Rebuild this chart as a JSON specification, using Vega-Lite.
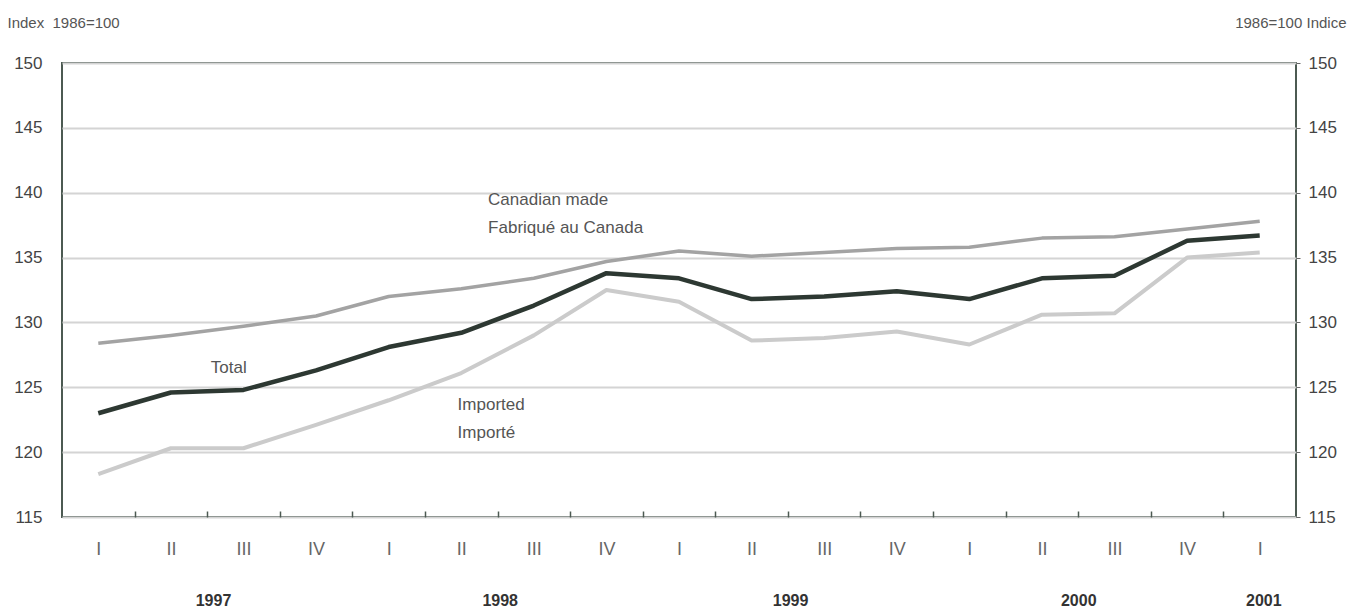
{
  "$schema": "https://vega.github.io/schema/vega-lite/v6.json",
  "width": 1234,
  "height": 454,
  "autosize": {"type": "none"},
  "padding": {"left": 62, "top": 63, "right": 57, "bottom": 92},
  "background": "white",
  "config": {
    "view": {"stroke": "#4c5a52", "strokeWidth": 2},
    "font": "Liberation Sans",
    "axis": {"labelColor": "#444", "labelFont": "Liberation Sans"}
  },
  "datasets": {
    "series": [
      {"t": 0, "series": "Total", "value": 123.0},
      {"t": 1, "series": "Total", "value": 124.6},
      {"t": 2, "series": "Total", "value": 124.8},
      {"t": 3, "series": "Total", "value": 126.3},
      {"t": 4, "series": "Total", "value": 128.1},
      {"t": 5, "series": "Total", "value": 129.2},
      {"t": 6, "series": "Total", "value": 131.3},
      {"t": 7, "series": "Total", "value": 133.8},
      {"t": 8, "series": "Total", "value": 133.4},
      {"t": 9, "series": "Total", "value": 131.8},
      {"t": 10, "series": "Total", "value": 132.0},
      {"t": 11, "series": "Total", "value": 132.4},
      {"t": 12, "series": "Total", "value": 131.8},
      {"t": 13, "series": "Total", "value": 133.4},
      {"t": 14, "series": "Total", "value": 133.6},
      {"t": 15, "series": "Total", "value": 136.3},
      {"t": 16, "series": "Total", "value": 136.7},
      {"t": 0, "series": "Imported", "value": 118.3},
      {"t": 1, "series": "Imported", "value": 120.3},
      {"t": 2, "series": "Imported", "value": 120.3},
      {"t": 3, "series": "Imported", "value": 122.1},
      {"t": 4, "series": "Imported", "value": 124.0},
      {"t": 5, "series": "Imported", "value": 126.1},
      {"t": 6, "series": "Imported", "value": 129.0},
      {"t": 7, "series": "Imported", "value": 132.5},
      {"t": 8, "series": "Imported", "value": 131.6},
      {"t": 9, "series": "Imported", "value": 128.6},
      {"t": 10, "series": "Imported", "value": 128.8},
      {"t": 11, "series": "Imported", "value": 129.3},
      {"t": 12, "series": "Imported", "value": 128.3},
      {"t": 13, "series": "Imported", "value": 130.6},
      {"t": 14, "series": "Imported", "value": 130.7},
      {"t": 15, "series": "Imported", "value": 135.0},
      {"t": 16, "series": "Imported", "value": 135.4},
      {"t": 0, "series": "Canadian made", "value": 128.4},
      {"t": 1, "series": "Canadian made", "value": 129.0},
      {"t": 2, "series": "Canadian made", "value": 129.7},
      {"t": 3, "series": "Canadian made", "value": 130.5},
      {"t": 4, "series": "Canadian made", "value": 132.0},
      {"t": 5, "series": "Canadian made", "value": 132.6},
      {"t": 6, "series": "Canadian made", "value": 133.4},
      {"t": 7, "series": "Canadian made", "value": 134.7},
      {"t": 8, "series": "Canadian made", "value": 135.5},
      {"t": 9, "series": "Canadian made", "value": 135.1},
      {"t": 10, "series": "Canadian made", "value": 135.4},
      {"t": 11, "series": "Canadian made", "value": 135.7},
      {"t": 12, "series": "Canadian made", "value": 135.8},
      {"t": 13, "series": "Canadian made", "value": 136.5},
      {"t": 14, "series": "Canadian made", "value": 136.6},
      {"t": 15, "series": "Canadian made", "value": 137.2},
      {"t": 16, "series": "Canadian made", "value": 137.8}
    ],
    "labels": [
      {"t": 5.37, "value": 139.45, "text": "Canadian made"},
      {"t": 5.37, "value": 137.3, "text": "Fabriqué au Canada"},
      {"t": 1.55, "value": 126.5, "text": "Total"},
      {"t": 4.95, "value": 123.6, "text": "Imported"},
      {"t": 4.95, "value": 121.5, "text": "Importé"}
    ]
  },
  "resolve": {"axis": {"x": "independent", "y": "independent"}},
  "layer": [
    {
      "data": {"name": "series"},
      "mark": {"type": "line", "strokeJoin": "round", "strokeCap": "butt"},
      "encoding": {
        "x": {
          "field": "t", "type": "quantitative",
          "scale": {"domain": [-0.5, 16.5], "nice": false, "zero": false},
          "axis": {
            "orient": "bottom", "title": null, "grid": false, "domain": false,
            "values": [0, 0.5, 1, 1.5, 2, 2.5, 3, 3.5, 4, 4.5, 5, 5.5, 6, 6.5, 7, 7.5, 8, 8.5, 9, 9.5, 10, 10.5, 11, 11.5, 12, 12.5, 13, 13.5, 14, 14.5, 15, 15.5, 16],
            "labelExpr": "datum.value % 1 === 0 ? ['I','II','III','IV'][datum.value % 4] : ''",
            "tickSize": -6, "tickWidth": 1.5, "tickColor": "#4c5a52",
            "tickOpacity": {"condition": {"test": "datum.value % 1 !== 0", "value": 1}, "value": 0},
            "labelFont": "Liberation Sans", "labelFontSize": 18, "labelColor": "#666",
            "labelPadding": 29, "labelBaseline": "top", "labelFlush": false, "labelOverlap": false
          }
        },
        "y": {
          "field": "value", "type": "quantitative",
          "scale": {"domain": [115, 150], "nice": false, "zero": false},
          "axis": {
            "orient": "left", "values": [115, 120, 125, 130, 135, 140, 145, 150],
            "grid": true, "gridColor": "#d4d4d4", "gridWidth": 2,
            "domain": false, "ticks": false, "labelPadding": 20,
            "labelFontSize": 17, "labelColor": "#444",
            "title": "Index\u00a0\u00a01986=100", "titleAngle": 0, "titleAlign": "left", "titleBaseline": "middle",
            "titleX": -55, "titleY": -41, "titleFont": "Liberation Sans", "titleFontSize": 15,
            "titleFontWeight": "normal", "titleColor": "#555"
          }
        },
        "color": {
          "field": "series", "type": "nominal",
          "scale": {"domain": ["Canadian made", "Imported", "Total"], "range": ["#a3a3a3", "#cbcbcb", "#2d3832"]},
          "legend": null
        },
        "strokeWidth": {
          "field": "series", "type": "nominal",
          "scale": {"domain": ["Canadian made", "Imported", "Total"], "range": [3.5, 4.5, 4.5]},
          "legend": null
        },
        "order": {"field": "t"}
      }
    },
    {
      "data": {"name": "labels"},
      "mark": {"type": "text", "align": "left", "baseline": "middle", "fontSize": 17, "color": "#555", "font": "Liberation Sans"},
      "encoding": {
        "x": {
          "field": "t", "type": "quantitative",
          "axis": {
            "orient": "bottom", "title": null, "grid": false, "domain": false, "ticks": false,
            "values": [1.58, 5.53, 9.53, 13.5, 16.05],
            "labelExpr": "{'1.58':'1997','5.53':'1998','9.53':'1999','13.5':'2000','16.05':'2001'}[datum.value + '']",
            "labelFontWeight": "bold", "labelFontSize": 16, "labelColor": "#333",
            "labelPadding": 75, "labelBaseline": "top", "labelFlush": false, "labelOverlap": false
          }
        },
        "y": {
          "field": "value", "type": "quantitative",
          "axis": {
            "orient": "right", "values": [115, 120, 125, 130, 135, 140, 145, 150],
            "grid": false, "domain": false, "ticks": true, "tickSize": 4, "tickColor": "#666",
            "labelPadding": 8, "labelFontSize": 17, "labelColor": "#444",
            "title": "1986=100 Indice", "titleAngle": 0, "titleAlign": "right", "titleBaseline": "middle",
            "titleX": 50, "titleY": -41, "titleFont": "Liberation Sans", "titleFontSize": 15,
            "titleFontWeight": "normal", "titleColor": "#555"
          }
        },
        "text": {"field": "text", "type": "nominal"}
      }
    }
  ]
}
